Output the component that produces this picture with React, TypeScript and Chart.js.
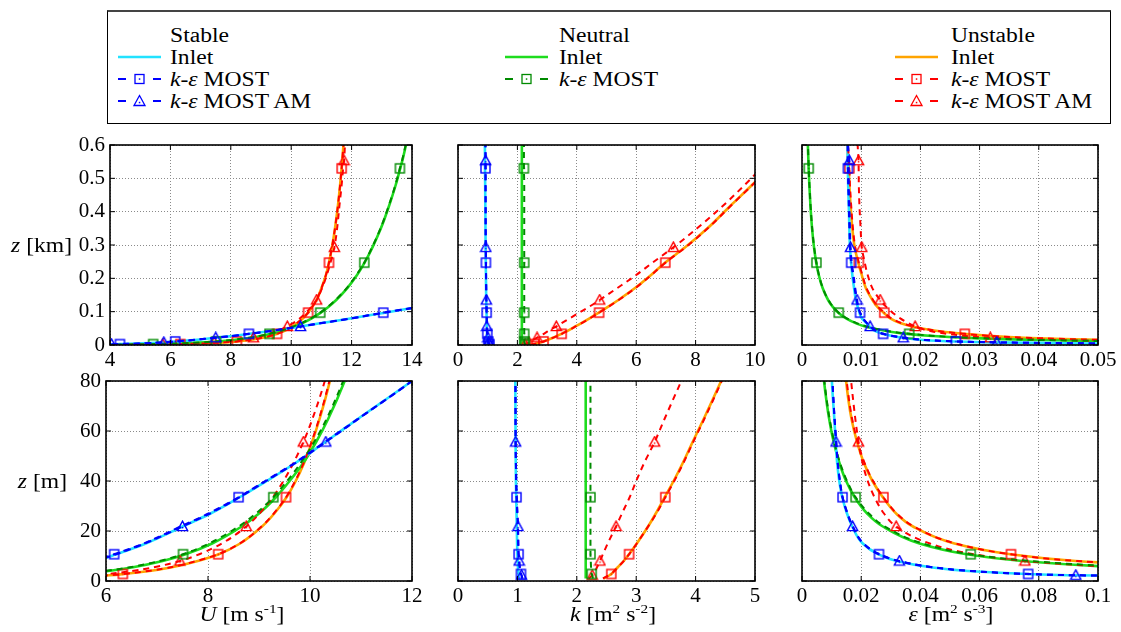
import React, { useEffect, useRef } from 'react';
import { Chart, registerables } from 'chart.js';

Chart.register(...registerables);

// ---------------- data (z in metres) ----------------
const Z_M = [1, 2.3, 2.8, 4, 5.5, 8, 10.7, 15, 21.8, 27, 33.5, 40, 47, 55.6, 65, 80, 97, 115, 135, 170, 210, 247, 293, 350, 420, 480, 530, 553, 600, 650];
const SQUARE_Z = [2.8, 10.7, 33.5, 97, 247, 530];
const TRIANGLE_Z = [2.3, 8, 21.8, 55.6, 135, 293, 553];

// wind speed U [m/s]
const U_STABLE_INLET = [3.0, 4.1, 4.38, 4.85, 5.3, 5.8, 6.2, 6.78, 7.5, 8.05, 8.62, 9.15, 9.7, 10.3, 10.95, 12.0, 13.1, 14.3, 15.6, null, null, null, null, null, null, null, null, null, null, null];
const U_STABLE_MOST = [2.95, 4.05, 4.33, 4.8, 5.25, 5.75, 6.16, 6.74, 7.46, 8.01, 8.6, 9.12, 9.68, 10.29, 10.95, 12.0, 13.05, 14.25, 15.55, null, null, null, null, null, null, null, null, null, null, null];
const U_STABLE_AM = [2.98, 4.05, 4.36, 4.82, 5.28, 5.78, 6.2, 6.76, 7.5, 8.04, 8.62, 9.14, 9.7, 10.31, 10.96, 12.0, 13.08, 14.3, 15.6, null, null, null, null, null, null, null, null, null, null, null];
const U_NEUTRAL_INLET = [3.89, 5.18, 5.48, 6.04, 6.53, 7.11, 7.56, 8.08, 8.66, 9.0, 9.33, 9.6, 9.86, 10.12, 10.36, 10.68, 10.98, 11.24, 11.49, 11.85, 12.18, 12.43, 12.69, 12.97, 13.25, 13.46, 13.61, 13.68, 13.8, 13.93];
const U_NEUTRAL_MOST = [3.84, 5.12, 5.43, 5.98, 6.47, 7.05, 7.51, 8.02, 8.6, 8.94, 9.28, 9.55, 9.81, 10.08, 10.33, 10.65, 10.96, 11.22, 11.47, 11.83, 12.16, 12.42, 12.68, 12.96, 13.24, 13.45, 13.6, 13.67, 13.79, 13.92];
const U_UNSTABLE_INLET = [4.86, 6.07, 6.35, 6.85, 7.29, 7.8, 8.21, 8.63, 9.06, 9.3, 9.54, 9.72, 9.88, 10.04, 10.19, 10.39, 10.56, 10.7, 10.84, 11.0, 11.15, 11.25, 11.35, 11.45, 11.55, 11.62, 11.67, 11.69, 11.73, 11.77];
const U_UNSTABLE_MOST = [4.84, 6.05, 6.33, 6.83, 7.27, 7.78, 8.2, 8.62, 9.05, 9.29, 9.53, 9.71, 9.87, 10.03, 10.18, 10.38, 10.56, 10.7, 10.84, 11.0, 11.15, 11.25, 11.35, 11.45, 11.55, 11.62, 11.67, 11.69, 11.73, 11.77];
const U_UNSTABLE_AM = [4.58, 5.75, 6.02, 6.51, 6.94, 7.45, 7.83, 8.27, 8.75, 9.01, 9.27, 9.48, 9.67, 9.87, 10.05, 10.29, 10.49, 10.67, 10.84, 11.02, 11.18, 11.3, 11.43, 11.52, 11.6, 11.67, 11.72, 11.75, 11.78, 11.81];

// turbulent kinetic energy k [m2/s2]
const K_STABLE_INLET = [1.03, 1.02, 1.02, 1.015, 1.01, 1.005, 1.0, 0.995, 0.99, 0.985, 0.98, 0.975, 0.972, 0.97, 0.967, 0.965, 0.96, 0.955, 0.95, 0.945, 0.94, 0.935, 0.93, 0.925, 0.92, 0.915, 0.91, 0.91, 0.905, 0.9];
const K_STABLE_MOST = [1.08, 1.07, 1.06, 1.05, 1.04, 1.03, 1.02, 1.015, 1.01, 1.0, 0.985, 0.98, 0.975, 0.97, 0.97, 0.97, 0.965, 0.96, 0.955, 0.95, 0.945, 0.94, 0.935, 0.93, 0.93, 0.925, 0.925, 0.925, 0.92, 0.92];
const K_STABLE_AM = [1.08, 1.07, 1.06, 1.05, 1.04, 1.03, 1.02, 1.015, 1.01, 1.0, 0.99, 0.98, 0.975, 0.97, 0.968, 0.965, 0.962, 0.96, 0.955, 0.95, 0.945, 0.94, 0.935, 0.932, 0.93, 0.93, 0.93, 0.93, 0.93, 0.93];
const K_NEUTRAL_INLET = [2.15, 2.15, 2.15, 2.15, 2.15, 2.15, 2.15, 2.15, 2.15, 2.15, 2.15, 2.15, 2.15, 2.15, 2.15, 2.15, 2.15, 2.15, 2.15, 2.15, 2.15, 2.15, 2.15, 2.15, 2.15, 2.15, 2.15, 2.15, 2.15, 2.15];
const K_NEUTRAL_MOST = [2.27, 2.26, 2.25, 2.245, 2.24, 2.235, 2.23, 2.23, 2.23, 2.23, 2.23, 2.23, 2.23, 2.23, 2.23, 2.23, 2.23, 2.23, 2.23, 2.23, 2.23, 2.23, 2.23, 2.23, 2.23, 2.23, 2.22, 2.22, 2.22, 2.22];
const K_UNSTABLE_INLET = [2.45, 2.55, 2.58, 2.63, 2.69, 2.79, 2.88, 3.01, 3.2, 3.33, 3.48, 3.63, 3.78, 3.95, 4.14, 4.43, 4.74, 5.06, 5.4, 5.95, 6.5, 6.97, 7.65, 8.4, 9.2, 9.9, 10.45, 10.7, 11.2, 11.7];
const K_UNSTABLE_MOST = [2.44, 2.54, 2.58, 2.63, 2.69, 2.79, 2.88, 3.01, 3.2, 3.34, 3.49, 3.64, 3.79, 3.96, 4.15, 4.44, 4.75, 5.07, 5.41, 5.96, 6.51, 6.98, 7.66, 8.41, 9.21, 9.91, 10.46, 10.71, 11.21, 11.71];
const K_UNSTABLE_AM = [2.2, 2.26, 2.28, 2.31, 2.34, 2.39, 2.44, 2.52, 2.66, 2.76, 2.89, 3.0, 3.13, 3.31, 3.48, 3.76, 4.08, 4.42, 4.77, 5.35, 6.0, 6.55, 7.25, 8.05, 8.95, 9.65, 10.2, 10.45, 10.95, 11.45];

// dissipation epsilon [m2/s3]
const E_STABLE_INLET = [0.2, 0.09, 0.076, 0.056, 0.0435, 0.032, 0.0258, 0.0205, 0.017, 0.0152, 0.0136, 0.0126, 0.0119, 0.0114, 0.0109, 0.0101, 0.0097, 0.0094, 0.0091, 0.0088, 0.0085, 0.0083, 0.0081, 0.008, 0.0079, 0.0078, 0.00775, 0.00772, 0.0077, 0.00768];
const E_STABLE_MOST = [0.2, 0.092, 0.0764, 0.057, 0.044, 0.0325, 0.026, 0.0207, 0.0172, 0.0154, 0.0137, 0.0128, 0.0121, 0.0116, 0.011, 0.0103, 0.0098, 0.0095, 0.0092, 0.0089, 0.0086, 0.0083, 0.0081, 0.008, 0.0079, 0.0078, 0.00775, 0.00772, 0.0077, 0.00768];
const E_STABLE_AM = [0.2, 0.0925, 0.077, 0.057, 0.0442, 0.0329, 0.0262, 0.0208, 0.0171, 0.0153, 0.0137, 0.0128, 0.0121, 0.0115, 0.011, 0.0103, 0.0098, 0.0095, 0.0093, 0.009, 0.0087, 0.0084, 0.0082, 0.0081, 0.008, 0.0079, 0.0079, 0.008, 0.0078, 0.0078];
const E_NEUTRAL_INLET = [0.595, 0.259, 0.2125, 0.149, 0.108, 0.0744, 0.0556, 0.0397, 0.0273, 0.022, 0.0178, 0.0149, 0.0127, 0.0107, 0.00915, 0.00744, 0.00613, 0.00517, 0.00441, 0.0035, 0.00283, 0.00241, 0.00203, 0.0017, 0.00142, 0.00124, 0.00112, 0.00108, 0.00099, 0.00092];
const E_NEUTRAL_MOST = [0.63, 0.275, 0.225, 0.158, 0.113, 0.0772, 0.057, 0.0408, 0.028, 0.0226, 0.0181, 0.0152, 0.0129, 0.0109, 0.0093, 0.00755, 0.0062, 0.00522, 0.00445, 0.00353, 0.00286, 0.00243, 0.00205, 0.00172, 0.00144, 0.00126, 0.00114, 0.0011, 0.001, 0.00093];
const E_UNSTABLE_INLET = [0.6, 0.3, 0.255, 0.183, 0.135, 0.0925, 0.0704, 0.0515, 0.0375, 0.0318, 0.0273, 0.0238, 0.021, 0.0186, 0.0167, 0.0149, 0.0138, 0.0127, 0.0119, 0.0108, 0.0101, 0.0095, 0.0089, 0.0085, 0.0082, 0.008, 0.0079, 0.0078, 0.0077, 0.0076];
const E_UNSTABLE_MOST = [0.6, 0.302, 0.257, 0.185, 0.136, 0.093, 0.0706, 0.0518, 0.0378, 0.032, 0.0275, 0.024, 0.0212, 0.0188, 0.0169, 0.0151, 0.0139, 0.0128, 0.012, 0.0109, 0.0102, 0.0096, 0.009, 0.0086, 0.0083, 0.0081, 0.008, 0.0079, 0.0078, 0.0077];
const E_UNSTABLE_AM = [0.5, 0.24, 0.2, 0.145, 0.108, 0.0753, 0.058, 0.0432, 0.0318, 0.0277, 0.0245, 0.0222, 0.0205, 0.0191, 0.018, 0.0166, 0.0153, 0.0142, 0.0132, 0.0119, 0.0111, 0.0106, 0.0101, 0.0099, 0.0097, 0.0096, 0.00957, 0.00955, 0.0094, 0.0093];

// ---------------- styling ----------------
const FONT = "'Liberation Serif', 'Times New Roman', Times, serif";
const STRETCH = 1.18;
const CYAN = '#22e2ff';
const GREEN = '#1edc1e';
const ORANGE = '#ffa400';
const BLUE = '#0000ff';
const DKGREEN = '#008a00';
const RED = '#ff0000';

Chart.defaults.font.family = FONT;
Chart.defaults.font.size = 21;
Chart.defaults.color = '#000';

type Run = { t: string; i?: boolean; sup?: boolean };

const SERIES: any[] = [
  { color: BLUE, dash: true, marker: 'square', U: U_STABLE_MOST, K: K_STABLE_MOST, E: E_STABLE_MOST },
  { color: BLUE, dash: true, marker: 'triangle', U: U_STABLE_AM, K: K_STABLE_AM, E: E_STABLE_AM },
  { color: DKGREEN, dash: true, marker: 'square', U: U_NEUTRAL_MOST, K: K_NEUTRAL_MOST, E: E_NEUTRAL_MOST },
  { color: RED, dash: true, marker: 'square', U: U_UNSTABLE_MOST, K: K_UNSTABLE_MOST, E: E_UNSTABLE_MOST },
  { color: RED, dash: true, marker: 'triangle', U: U_UNSTABLE_AM, K: K_UNSTABLE_AM, E: E_UNSTABLE_AM },
  { color: CYAN, dash: false, marker: null, U: U_STABLE_INLET, K: K_STABLE_INLET, E: E_STABLE_INLET },
  { color: GREEN, dash: false, marker: null, U: U_NEUTRAL_INLET, K: K_NEUTRAL_INLET, E: E_NEUTRAL_INLET },
  { color: ORANGE, dash: false, marker: null, U: U_UNSTABLE_INLET, K: K_UNSTABLE_INLET, E: E_UNSTABLE_INLET },
];

const Z_KM_TITLE: Run[] = [{ t: 'z', i: true }, { t: ' [km]' }];
const Z_M_TITLE: Run[] = [{ t: 'z', i: true }, { t: ' [m]' }];
const U_TITLE: Run[] = [{ t: 'U', i: true }, { t: ' [m s' }, { t: '-1', sup: true }, { t: ']' }];
const K_TITLE: Run[] = [{ t: 'k', i: true }, { t: ' [m' }, { t: '2', sup: true }, { t: ' s' }, { t: '-2', sup: true }, { t: ']' }];
const E_TITLE: Run[] = [{ t: 'ε', i: true }, { t: ' [m' }, { t: '2', sup: true }, { t: ' s' }, { t: '-3', sup: true }, { t: ']' }];

const SPECS: any[] = [
  { v: 'U', zf: 0.001, box: [0, 125, 440, 255], area: [110, 145, 412, 345], x: [4, 14, 2], y: [0, 0.6, 0.1], yLabels: true, texts: [{ runs: Z_KM_TITLE, x: 72, y: 252, align: 'right' }] },
  { v: 'K', zf: 0.001, box: [430, 125, 350, 255], area: [458, 145, 755, 345], x: [0, 10, 2], y: [0, 0.6, 0.1], yLabels: false, texts: [] },
  { v: 'E', zf: 0.001, box: [780, 125, 341, 255], area: [802, 145, 1098, 345], x: [0, 0.05, 0.01], y: [0, 0.6, 0.1], yLabels: false, texts: [] },
  { v: 'U', zf: 1, box: [0, 361, 440, 271], area: [106, 381, 412, 581], x: [6, 12, 2], y: [0, 80, 20], yLabels: true, texts: [{ runs: Z_M_TITLE, x: 67, y: 488, align: 'right' }, { runs: U_TITLE, x: 242, y: 621, align: 'center' }] },
  { v: 'K', zf: 1, box: [430, 361, 350, 271], area: [458, 381, 755, 581], x: [0, 5, 1], y: [0, 80, 20], yLabels: false, texts: [{ runs: K_TITLE, x: 613, y: 621, align: 'center' }] },
  { v: 'E', zf: 1, box: [780, 361, 341, 271], area: [802, 381, 1098, 581], x: [0, 0.1, 0.02], y: [0, 80, 20], yLabels: false, texts: [{ runs: E_TITLE, x: 951, y: 621, align: 'center' }] },
];

function drawRich(ctx: CanvasRenderingContext2D, runs: Run[], x: number, y: number, align: string) {
  const size = 20;
  const fontFor = (r: Run) => `${r.i ? 'italic ' : ''}${r.sup ? 13 : size}px ${FONT}`;
  let w = 0;
  for (const r of runs) { ctx.font = fontFor(r); w += ctx.measureText(r.t).width; }
  ctx.save();
  ctx.translate(x, y);
  ctx.scale(STRETCH, 1);
  let cx = align === 'left' ? 0 : align === 'center' ? -w / 2 : -w;
  ctx.fillStyle = '#000';
  ctx.textAlign = 'left';
  ctx.textBaseline = 'alphabetic';
  for (const r of runs) {
    ctx.font = fontFor(r);
    ctx.fillText(r.t, cx, r.sup ? -8 : 0);
    cx += ctx.measureText(r.t).width;
  }
  ctx.restore();
}

function makeMarker(kind: string, color: string): HTMLCanvasElement {
  const c = document.createElement('canvas');
  c.width = 13; c.height = 13;
  const g = c.getContext('2d')!;
  g.strokeStyle = color; g.fillStyle = color; g.lineWidth = 1.4;
  if (kind === 'square') {
    g.strokeRect(2, 2, 9, 9);
    g.fillRect(5.8, 5.8, 1.5, 1.5);
  } else {
    g.beginPath(); g.moveTo(6.5, 1.2); g.lineTo(11.6, 10.6); g.lineTo(1.4, 10.6); g.closePath(); g.stroke();
    g.fillRect(5.8, 6.9, 1.5, 1.5);
  }
  return c;
}

const fmt = (v: any) => String(Number(Number(v).toFixed(6)));

function buildConfig(spec: any): any {
  const [bl, bt, bw, bh] = spec.box;
  const [al, at, ar, ab] = spec.area;
  const yAxisW = al - bl, padTop = at - bt, padRight = bl + bw - ar, xAxisH = bt + bh - ab;
  const markers: Record<string, HTMLCanvasElement> = {};
  const datasets = SERIES.map((s) => {
    const vals = s[spec.v];
    const data: any[] = [];
    const radius: number[] = [];
    const mz = s.marker === 'square' ? SQUARE_Z : s.marker === 'triangle' ? TRIANGLE_Z : [];
    Z_M.forEach((z, i) => {
      const v = vals[i];
      if (v === null || v === undefined) return;
      data.push({ x: v, y: z * spec.zf });
      radius.push(mz.includes(z) ? 5 : 0);
    });
    let style: any = 'circle';
    if (s.marker) {
      const key = s.marker + s.color;
      if (!markers[key]) markers[key] = makeMarker(s.marker, s.color);
      style = markers[key];
    }
    return {
      data,
      borderColor: s.color,
      backgroundColor: s.color,
      borderWidth: s.dash ? 2 : 2.6,
      borderDash: s.dash ? [6, 5] : [],
      pointStyle: style,
      pointRadius: radius,
      pointHoverRadius: 0,
      pointBorderWidth: 0,
      cubicInterpolationMode: 'monotone',
      capBezierPoints: false,
      fill: false,
      order: s.dash ? 0 : 1,
    };
  });

  const overlay = {
    id: 'overlay',
    afterDraw(chart: any) {
      const { ctx, chartArea: a } = chart;
      const xs = chart.scales.x, ys = chart.scales.y;
      ctx.save();
      ctx.setLineDash([]);
      ctx.strokeStyle = '#000';
      ctx.lineWidth = 1;
      ctx.beginPath();
      xs.ticks.forEach((t: any) => {
        const p = xs.getPixelForValue(t.value);
        ctx.moveTo(p, a.bottom); ctx.lineTo(p, a.bottom - 5);
        ctx.moveTo(p, a.top); ctx.lineTo(p, a.top + 5);
      });
      ys.ticks.forEach((t: any) => {
        const p = ys.getPixelForValue(t.value);
        ctx.moveTo(a.left, p); ctx.lineTo(a.left + 5, p);
        ctx.moveTo(a.right, p); ctx.lineTo(a.right - 5, p);
      });
      ctx.stroke();
      ctx.lineWidth = 1.6;
      ctx.strokeRect(a.left, a.top, a.right - a.left, a.bottom - a.top);
      spec.texts.forEach((tx: any) => drawRich(ctx, tx.runs, tx.x - bl, tx.y - bt, tx.align));
      ctx.restore();
    },
  };

  const tickFont = { family: FONT, size: 21, style: 'normal' as const, weight: 'normal' as const };
  return {
    type: 'line',
    data: { datasets },
    options: {
      animation: false,
      responsive: true,
      maintainAspectRatio: false,
      indexAxis: 'y',
      events: [],
      font: { family: FONT, size: 21 },
      layout: { padding: { top: padTop, right: padRight, left: 0, bottom: 0 } },
      plugins: { legend: { display: false }, tooltip: { enabled: false } },
      scales: {
        x: {
          type: 'linear', position: 'bottom', min: spec.x[0], max: spec.x[1],
          afterFit: (s: any) => { s.height = xAxisH; },
          ticks: { stepSize: spec.x[2], font: tickFont, color: '#000', padding: 3, maxRotation: 0, autoSkip: false, callback: fmt },
          grid: { color: '#8a8a8a', lineWidth: 1, drawTicks: false },
          border: { display: false, dash: [1, 2] },
        },
        y: {
          type: 'linear', position: 'left', min: spec.y[0], max: spec.y[1],
          afterFit: (s: any) => { s.width = yAxisW; },
          ticks: { display: spec.yLabels, stepSize: spec.y[2], font: tickFont, color: '#000', padding: 5, autoSkip: false, callback: fmt },
          grid: { color: '#8a8a8a', lineWidth: 1, drawTicks: false },
          border: { display: false, dash: [1, 2] },
        },
      },
    },
    plugins: [overlay],
  };
}

function ChartBox({ spec }: { spec: any }) {
  const ref = useRef<HTMLCanvasElement>(null);
  useEffect(() => {
    const chart = new Chart(ref.current as HTMLCanvasElement, buildConfig(spec));
    return () => chart.destroy();
  }, [spec]);
  const [l, t, w, h] = spec.box;
  return (
    <div style={{ position: 'absolute', left: l, top: t, width: w, height: h }}>
      <canvas ref={ref} />
    </div>
  );
}

// ---------------- legend ----------------
const LEGEND_BASELINES = [41.5, 63.5, 86, 108];
const LEGEND_COLS: any[] = [
  { title: 'Stable', symX: 118, textX: 170, entries: [{ sym: 'line', color: CYAN, label: 'inlet' }, { sym: 'square', color: BLUE, label: 'most' }, { sym: 'triangle', color: BLUE, label: 'am' }] },
  { title: 'Neutral', symX: 505, textX: 559, entries: [{ sym: 'line', color: GREEN, label: 'inlet' }, { sym: 'square', color: DKGREEN, label: 'most' }] },
  { title: 'Unstable', symX: 895, textX: 951, entries: [{ sym: 'line', color: ORANGE, label: 'inlet' }, { sym: 'square', color: RED, label: 'most' }, { sym: 'triangle', color: RED, label: 'am' }] },
];

function Sym({ kind, color, x, cy }: any) {
  return (
    <svg width={44} height={14} style={{ position: 'absolute', left: x, top: cy - 7, overflow: 'visible' }}>
      {kind === 'line' ? (
        <line x1={0} y1={7} x2={43} y2={7} stroke={color} strokeWidth={2.4} />
      ) : (
        <g>
          <line x1={0} y1={7} x2={8} y2={7} stroke={color} strokeWidth={2} />
          <line x1={35} y1={7} x2={43} y2={7} stroke={color} strokeWidth={2} />
          {kind === 'square' ? (
            <rect x={17} y={2.5} width={9} height={9} fill="none" stroke={color} strokeWidth={1.3} />
          ) : (
            <polygon points="21.5,1.5 27,11.5 16,11.5" fill="none" stroke={color} strokeWidth={1.3} />
          )}
          <rect x={20.8} y={kind === 'square' ? 6.3 : 7.8} width={1.5} height={1.5} fill={color} />
        </g>
      )}
    </svg>
  );
}

function Label({ kind }: { kind: string }) {
  if (kind === 'inlet') return <>Inlet</>;
  return (
    <>
      <i>k</i>-<i>ε</i> MOST{kind === 'am' ? ' AM' : ''}
    </>
  );
}

function Text({ x, baseline, children }: any) {
  return (
    <span
      style={{
        position: 'absolute', left: x, top: baseline - 16.75, fontFamily: FONT, fontSize: 20, lineHeight: '20px',
        whiteSpace: 'nowrap', color: '#000', transform: `scaleX(${STRETCH})`, transformOrigin: 'left top',
      }}
    >
      {children}
    </span>
  );
}

function Legend() {
  return (
    <>
      <div style={{ position: 'absolute', left: 107, top: 10, width: 1004, height: 114, boxSizing: 'border-box', border: '1px solid #000', borderTop: '2px solid #444' }} />
      {LEGEND_COLS.map((col, ci) => (
        <React.Fragment key={ci}>
          <Text x={col.textX} baseline={LEGEND_BASELINES[0]}>{col.title}</Text>
          {col.entries.map((e: any, ei: number) => (
            <React.Fragment key={ei}>
              <Sym kind={e.sym} color={e.color} x={col.symX} cy={LEGEND_BASELINES[ei + 1] - 7} />
              <Text x={col.textX} baseline={LEGEND_BASELINES[ei + 1]}><Label kind={e.label} /></Text>
            </React.Fragment>
          ))}
        </React.Fragment>
      ))}
    </>
  );
}

export default function App() {
  return (
    <div style={{ position: 'absolute', left: 0, top: 0, width: 1121, height: 632, overflow: 'hidden', background: '#fff' }}>
      <Legend />
      {SPECS.map((s, i) => (
        <ChartBox key={i} spec={s} />
      ))}
    </div>
  );
}
